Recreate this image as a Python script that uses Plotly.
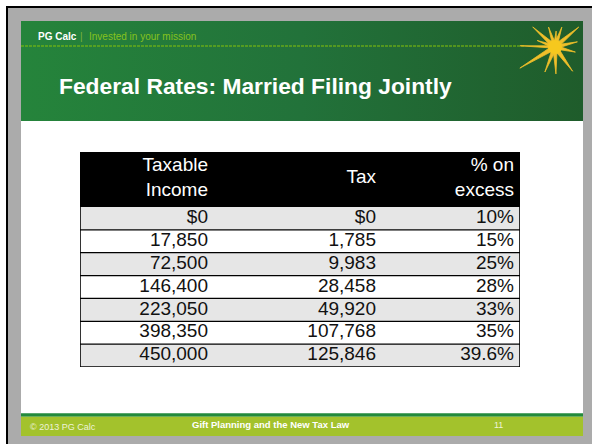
import math
import plotly.graph_objects as go

# ---------------- data ----------------
header_labels = ["Taxable<br>Income", "Tax", "% on<br>excess"]
taxable_income = ["$0", "17,850", "72,500", "146,400", "223,050", "398,350", "450,000"]
tax = ["$0", "1,785", "9,983", "28,458", "49,920", "107,768", "125,846"]
pct_on_excess = ["10%", "15%", "25%", "28%", "33%", "35%", "39.6%"]

slide_title = "Federal Rates: Married Filing Jointly"
brand = "PG Calc"
tagline = "Invested in your mission"
footer_left = "\u00a9 2013 PG Calc"
footer_center = "Gift Planning and the New Tax Law"
page_number = "11"

# ---------------- style ----------------
W, H = 592, 444
FONT = "Liberation Sans, Arial, sans-serif"
GRAY = "#ababab"
LIME = "#a3c22c"
GREEN_LINE = "#238a3c"
ROW_FILLS = ["#e6e6e6", "#ffffff"]

# table box in page pixels
TX0, TX1, TY0, TY1 = 80, 520, 152, 367
TW, TH = TX1 - TX0, TY1 - TY0
HEADER_H = 55
N = len(taxable_income)
ROW_H = (TH - HEADER_H) / N
COL_RIGHT = [128, 296, 434]
TEXT_SIZE = 19

fig = go.Figure()

# ---------- slide decoration (page-pixel axis x/y) ----------
shapes = [
    dict(type="rect", xref="x", yref="y", x0=8, x1=W, y0=8, y1=H,
         fillcolor=GRAY, line_width=0, layer="below"),
    dict(type="rect", xref="x", yref="y", x0=6, x1=W, y0=6, y1=8,
         fillcolor="black", line_width=0, layer="below"),
    dict(type="rect", xref="x", yref="y", x0=6, x1=8, y0=6, y1=H,
         fillcolor="black", line_width=0, layer="below"),
    dict(type="rect", xref="x", yref="y", x0=21, x1=583, y0=21, y1=436,
         fillcolor="white", line_width=0, layer="below"),
    dict(type="rect", xref="x", yref="y", x0=21, x1=583, y0=413.3, y1=416.7,
         fillcolor=GREEN_LINE, line_width=0, layer="below"),
    dict(type="rect", xref="x", yref="y", x0=21, x1=583, y0=416.7, y1=436,
         fillcolor=LIME, line_width=0, layer="below"),
]

# green title band with horizontal gradient
fig.add_trace(go.Scatter(
    x=[21, 583, 583, 21, 21], y=[21, 21, 121, 121, 21],
    mode="lines", line=dict(width=0), fill="toself",
    fillgradient=dict(type="horizontal",
                      colorscale=[[0, "#25843b"], [0.5, "#22723a"], [1, "#1f5c2b"]]),
    xaxis="x", yaxis="y", hoverinfo="skip", showlegend=False))

# dashed rule under the tagline
fig.add_trace(go.Scatter(
    x=[21, 525], y=[46, 46], mode="lines",
    line=dict(color="#86c20a", width=1, dash="3px,1px"),
    xaxis="x", yaxis="y", hoverinfo="skip", showlegend=False))

# starburst logo: tapered rays
star_cx, star_cy = 555, 47
ray_angles = [138, 108, 86, 71, 40, 13, -14, -54, -88, -112, -149, 178, 160]
ray_lengths = [30, 21, 16, 21, 31, 23, 21, 30, 27, 27, 41, 35, 19]
ray_base = [2.2, 2.0, 1.6, 2.0, 2.4, 2.0, 2.0, 2.4, 2.2, 2.2, 2.4, 1.2, 1.8]
sx, sy = [], []
for a, L, b in zip(ray_angles, ray_lengths, ray_base):
    r = math.radians(a)
    ux, uy = math.cos(r), -math.sin(r)
    px, py = -uy, ux
    sx += [star_cx + px * b, star_cx + ux * L, star_cx - px * b, star_cx + px * b, None]
    sy += [star_cy + py * b, star_cy + uy * L, star_cy - py * b, star_cy + py * b, None]
fig.add_trace(go.Scatter(x=sx, y=sy, mode="lines", fill="toself",
                         fillcolor="#f0bf2a", line=dict(color="#f0bf2a", width=0.8),
                         xaxis="x", yaxis="y", hoverinfo="skip", showlegend=False))
fig.add_trace(go.Scatter(x=[star_cx], y=[star_cy], mode="markers",
                         marker=dict(color="#f6c81e", size=14, line_width=0),
                         xaxis="x", yaxis="y", hoverinfo="skip", showlegend=False))

annotations = [
    dict(x=36, y=36, text="<b>" + brand + "</b>", showarrow=False, xanchor="left",
         yanchor="middle", font=dict(family=FONT, size=10, color="white")),
    dict(x=78, y=36, text="|", showarrow=False, xanchor="left", yanchor="middle",
         font=dict(family=FONT, size=10, color="#7fb23a")),
    dict(x=87, y=36, text=tagline, showarrow=False, xanchor="left", yanchor="middle",
         font=dict(family=FONT, size=10, color="#86c21e")),
    dict(x=57, y=86, text="<b>" + slide_title + "</b>", showarrow=False,
         xanchor="left", yanchor="middle",
         font=dict(family=FONT, size=22.8, color="white")),
    dict(x=28, y=427, text=footer_left, showarrow=False, xanchor="left",
         yanchor="middle", font=dict(family=FONT, size=9, color="#eef3d8")),
    dict(x=271, y=424.5, text="<b>" + footer_center + "</b>", showarrow=False,
         xanchor="center", yanchor="middle",
         font=dict(family=FONT, size=9.5, color="white")),
    dict(x=498, y=425, text=page_number, showarrow=False, xanchor="center",
         yanchor="middle", font=dict(family=FONT, size=9, color="#eef3d8")),
]
for a in annotations:
    a.update(xref="x", yref="y")

# ---------- table (axis x2/y2 in table pixels) ----------
row_centers = [HEADER_H + (i + 0.5) * ROW_H for i in range(N)]
fig.add_trace(go.Bar(
    orientation="h",
    y=[HEADER_H / 2] + row_centers,
    x=[TW] * (N + 1), base=0,
    width=[HEADER_H] + [ROW_H] * N,
    marker=dict(color=["black"] + [ROW_FILLS[i % 2] for i in range(N)], line_width=0),
    xaxis="x2", yaxis="y2", hoverinfo="skip", showlegend=False))

# row separators
lx, ly = [], []
for k in range(1, N):
    yb = HEADER_H + k * ROW_H
    lx += [0, TW, None]
    ly += [yb, yb, None]
fig.add_trace(go.Scatter(x=lx, y=ly, mode="lines", line=dict(color="black", width=1.3),
                         xaxis="x2", yaxis="y2", hoverinfo="skip", showlegend=False))
# outer border
fig.add_trace(go.Scatter(x=[0, TW, TW, 0, 0], y=[0, 0, TH, TH, 0], mode="lines",
                         line=dict(color="black", width=1.6),
                         xaxis="x2", yaxis="y2", hoverinfo="skip", showlegend=False))

# header text
fig.add_trace(go.Scatter(x=COL_RIGHT, y=[HEADER_H / 2 - 1] * 3, text=header_labels,
                         mode="text", textposition="middle left",
                         textfont=dict(family=FONT, size=TEXT_SIZE, color="white"),
                         xaxis="x2", yaxis="y2", hoverinfo="skip", showlegend=False))
# body text
for j, col in enumerate([taxable_income, tax, pct_on_excess]):
    fig.add_trace(go.Scatter(x=[COL_RIGHT[j]] * N, y=row_centers, text=col,
                             mode="text", textposition="middle left",
                             textfont=dict(family=FONT, size=TEXT_SIZE, color="#111111"),
                             xaxis="x2", yaxis="y2", hoverinfo="skip", showlegend=False))

ax_off = dict(visible=False, showgrid=False, zeroline=False, fixedrange=True)
fig.update_layout(
    width=W, height=H,
    margin=dict(l=0, r=0, t=0, b=0),
    paper_bgcolor="white", plot_bgcolor="rgba(0,0,0,0)",
    xaxis=dict(domain=[0, 1], range=[0, W], **ax_off),
    yaxis=dict(domain=[0, 1], range=[H, 0], **ax_off),
    xaxis2=dict(domain=[TX0 / W, TX1 / W], range=[0, TW], anchor="y2", **ax_off),
    yaxis2=dict(domain=[1 - TY1 / H, 1 - TY0 / H], range=[TH, 0], anchor="x2", **ax_off),
    barmode="overlay",
    shapes=shapes, annotations=annotations,
    hovermode=False, showlegend=False,
)

fig.write_html(
    "out.html",
    config={"displayModeBar": False, "staticPlot": True},
    post_script="document.body.style.margin='0';document.body.style.overflow='hidden';",
)
